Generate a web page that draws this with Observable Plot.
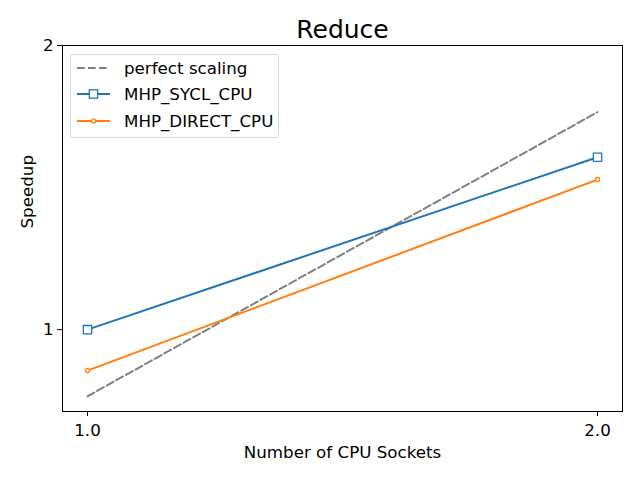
<!DOCTYPE html>
<html>
<head>
<meta charset="utf-8">
<script src="https://cdn.jsdelivr.net/npm/d3@7"></script>
<script src="https://cdn.jsdelivr.net/npm/@observablehq/plot@0.6"></script>
<style>
  html, body { margin: 0; padding: 0; background: #fff; }
  #wrap { position: relative; width: 640px; height: 480px; font-family: "DejaVu Sans", sans-serif; }
  #legend { position: absolute; left: 70px; top: 54px; width: 207px; height: 82px;
    border: 1px solid #d6d6d6; border-radius: 3px; background: rgba(255,255,255,0.8); }
  .row { position: absolute; left: 0; height: 20px; font-size: 16.7px; line-height: 20px; color: #000; }
  .row svg { position: absolute; left: 6px; top: 0; }
  .row span { position: absolute; left: 53px; white-space: nowrap; }
</style>
</head>
<body>
<div id="wrap"></div>
<script>
const sockets = [1, 2];
const perfect = [0.85, 1.70];
const sycl = [1.0, 1.523];
const direct = [0.905, 1.442];
const seriesNames = ["perfect scaling", "MHP_SYCL_CPU", "MHP_DIRECT_CPU"];
const xTicks = [1, 2];
const yTicks = [1, 2];

const toRows = vals => sockets.map((s, i) => ({x: s, y: vals[i]}));
const perfRows = toRows(perfect);
const syclRows = toRows(sycl);
const directRows = toRows(direct);

const font = "DejaVu Sans";
const fs = 16.7;
const lw = 2;
const dash = "7.7,3.3";
const chart = Plot.plot({
  width: 640, height: 480,
  marginLeft: 62, marginRight: 18, marginTop: 45, marginBottom: 69,
  style: {fontFamily: font, fontSize: fs + "px", color: "#000", background: "#fff"},
  x: {domain: [0.951, 2.049]},
  y: {type: "log", domain: [0.819, 2]},
  marks: [
    Plot.axisX({ticks: xTicks, tickFormat: d => d.toFixed(1), tickSize: 5, tickPadding: 8, fontSize: fs, label: null, stroke: "#000"}),
    Plot.axisY({ticks: yTicks, tickFormat: d => String(d), tickSize: 5, tickPadding: 4, fontSize: fs, label: null, stroke: "#000"}),
    Plot.line(perfRows, {x: "x", y: "y", stroke: "gray", strokeWidth: lw, strokeDasharray: dash}),
    Plot.line(syclRows, {x: "x", y: "y", stroke: "#1f77b4", strokeWidth: lw}),
    Plot.dot(syclRows, {x: "x", y: "y", symbol: "square", r: 4.7, stroke: "#1f77b4", fill: "white", strokeWidth: 1.3}),
    Plot.line(directRows, {x: "x", y: "y", stroke: "#ff7f0e", strokeWidth: lw}),
    Plot.dot(directRows, {x: "x", y: "y", r: 2.1, stroke: "#ff7f0e", fill: "white", strokeWidth: 1.3}),
    Plot.frame({stroke: "#000", strokeWidth: 1}),
    Plot.text(["Reduce"], {frameAnchor: "top", lineAnchor: "middle", dy: -16, fontSize: 25, fill: "#000"}),
    Plot.text(["Number of CPU Sockets"], {frameAnchor: "bottom", lineAnchor: "middle", dy: 41, fontSize: fs, fill: "#000"}),
    Plot.text(["Speedup"], {frameAnchor: "left", lineAnchor: "middle", dx: -35, rotate: -90, fontSize: fs, fill: "#000"})
  ]
});
const wrap = document.getElementById("wrap");
wrap.appendChild(chart);

// legend
const legend = document.createElement("div");
legend.id = "legend";
const styles = [
  {stroke: "gray", dash: dash, marker: null},
  {stroke: "#1f77b4", dash: null, marker: "square"},
  {stroke: "#ff7f0e", dash: null, marker: "circle"}
];
const rowTops = [3.3, 29.3, 55.7];
seriesNames.forEach((name, i) => {
  const st = styles[i];
  const row = document.createElement("div");
  row.className = "row";
  row.style.top = rowTops[i] + "px";
  const svg = d3.create("svg").attr("width", 34).attr("height", 20);
  svg.append("line").attr("x1", 0).attr("x2", 33).attr("y1", 10).attr("y2", 10)
    .attr("stroke", st.stroke).attr("stroke-width", lw)
    .attr("stroke-dasharray", st.dash);
  if (st.marker === "square") {
    svg.append("rect").attr("x", 12.3).attr("y", 5.8).attr("width", 8.4).attr("height", 8.4)
      .attr("fill", "white").attr("stroke", st.stroke).attr("stroke-width", 1.3);
  } else if (st.marker === "circle") {
    svg.append("circle").attr("cx", 16.5).attr("cy", 10).attr("r", 2.1)
      .attr("fill", "white").attr("stroke", st.stroke).attr("stroke-width", 1.3);
  }
  row.appendChild(svg.node());
  const span = document.createElement("span");
  span.textContent = name;
  row.appendChild(span);
  legend.appendChild(row);
});
wrap.appendChild(legend);
</script>
</body>
</html>
